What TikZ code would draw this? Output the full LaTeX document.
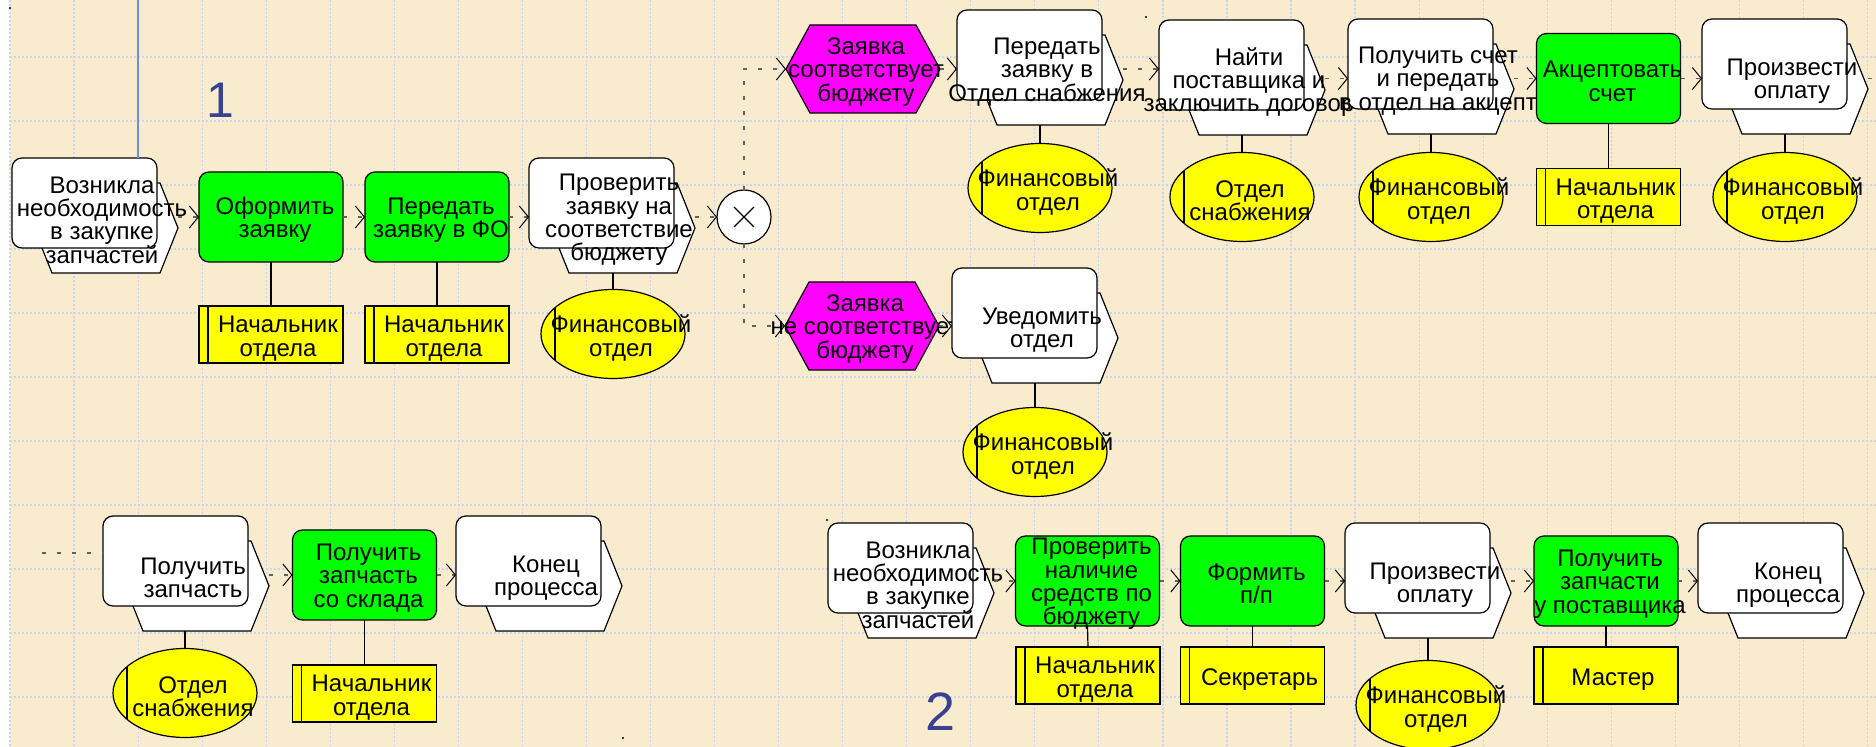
\documentclass[tikz,border=0pt]{standalone}
\usepackage{fontspec}
\setmainfont{Liberation Sans}
\usetikzlibrary{shapes.geometric,arrows.meta,calc}

\definecolor{paper}{HTML}{F9EBCD}
\definecolor{gridc}{HTML}{C7D4F4}
\definecolor{fgreen}{HTML}{00FF00}
\definecolor{fyellow}{HTML}{FFFF00}
\definecolor{fmag}{HTML}{FF00FF}
\definecolor{numc}{HTML}{3B4192}
\definecolor{lanec}{HTML}{6F8BE3}
\definecolor{connc}{HTML}{606060}

% event: rounded box over a hexagon; name, top-left corner, text
\newcommand{\EvShape}[3]{%
  \coordinate (#1-o) at (#2);
  \node[hexframe, anchor=north west] (#1-h) at ($(#1-o)+(22,25)$) {};
  \draw[shapeline, fill=white] ($(#1-h.north west)+(18,0)$) -- ($(#1-h.north east)+(-18,0)$)
     -- (#1-h.east) -- ($(#1-h.south east)+(-18,0)$) -- ($(#1-h.south west)+(18,0)$)
     -- (#1-h.west) -- cycle;
  \node[evbox] (#1) at (#1-o) {};
  \node[lbl] (#1-t) at ($(#1-o)+(90,62)$) {#3};}

% function: green rounded box; name, centre, text
\newcommand{\FnBox}[3]{%
  \node[fnbox] (#1) at (#2) {};
  \node[lbl] (#1-t) at ($(#1)+(4,3)$) {#3};}

% role: yellow box with a side bar
\newcommand{\RoleBox}[3]{%
  \node[rolebox] (#1) at (#2) {};
  \draw[shapeline] ($(#1.north west)+(9,0)$) -- ($(#1.south west)+(9,0)$);
  \node[lbl] (#1-t) at ($(#1)+(7,4)$) {#3};}

% organisational unit: yellow ellipse with a side bar
\newcommand{\OrgUnit}[3]{%
  \node[orgell] (#1) at (#2) {};
  \draw[shapeline] ($(#1.center)+(-58,-26)$) -- ($(#1.center)+(-58,26)$);
  \node[lbl] (#1-t) at ($(#1)+(8,4)$) {#3};}

% state: magenta hexagon
\newcommand{\StateHex}[3]{%
  \node[stateframe] (#1) at (#2) {};
  \draw[shapeline, fill=fmag] (#1.west) -- ($(#1.north west)+(24,0)$) -- ($(#1.north east)+(-24,0)$)
     -- (#1.east) -- ($(#1.south east)+(-24,0)$) -- ($(#1.south west)+(24,0)$) -- cycle;
  \node[lbl] (#1-t) at ($(#1)+(3,3)$) {#3};}

\begin{document}
\begin{tikzpicture}[x=0.5pt,y=-0.5pt,
  lbl/.style={font=\fontsize{12}{11.7}\selectfont, align=center, inner sep=0pt},
  shapeline/.style={draw=black, line width=0.6pt},
  hexframe/.style={inner sep=0pt, outer sep=0pt, minimum width=72pt, minimum height=45pt},
  stateframe/.style={inner sep=0pt, outer sep=0pt, minimum width=77pt, minimum height=44pt},
  evbox/.style={shapeline, fill=white, rounded corners=5pt, minimum width=72.5pt,
                minimum height=45pt, inner sep=0pt, outer sep=0pt, anchor=north west},
  fnbox/.style={shapeline, fill=fgreen, rounded corners=5pt, minimum width=72pt,
                minimum height=45pt, inner sep=0pt, outer sep=0pt},
  rolebox/.style={shapeline, fill=fyellow, minimum width=72pt, minimum height=28.5pt,
                inner sep=0pt, outer sep=0pt},
  orgell/.style={ellipse, shapeline, fill=fyellow, minimum width=72pt, minimum height=44.5pt,
                inner sep=0pt, outer sep=0pt},
  xorgate/.style={circle, shapeline, fill=white, minimum size=27pt, inner sep=0pt, outer sep=0pt},
  edge/.style={draw=black, line width=0.6pt},
  flowline/.style={draw=connc, line width=0.6pt, dash pattern=on 2pt off 5.5pt},
  flow/.style={flowline, -{Straight Barb[length=4.5pt,width=11pt,color=black,line width=0.5pt]}},
  gridline/.style={draw=gridc, line width=0.6pt, dash pattern=on 1pt off 1pt},
  bignum/.style={inner sep=0pt, text=numc}
]
\useasboundingbox (0,0) rectangle (1876,747);
\fill[paper] (0,0) rectangle (1876,747);
\fill[white] (0,0) rectangle (10,747);
\foreach \i in {0,...,29} \draw[gridline] ({10+64.05*\i},0) -- ({10+64.05*\i},747);
\foreach \j in {0,...,10} \draw[gridline] (10,{57+64*\j}) -- (1876,{57+64*\j});

% stray marks
\fill (10,8) circle (1.2);
\fill (1146,17) circle (1.2);
\fill (827,520) circle (1.2);
\fill (623,738) circle (1.2);

% scenario numbers
\node[bignum, font=\fontsize{25}{25}\selectfont] (n1) at (220,100) {1};
\node[bignum, font=\fontsize{27}{27}\selectfont] (n2) at (941,712) {2};

% ---- scenario 1, main row
\EvShape{e1}{12,158}{Возникла\\необходимость\\в закупке\\запчастей}
\coordinate (lanetop) at (138,0);
\draw[lanec, line width=1pt] (lanetop) -- (lanetop |- e1.north);
\FnBox{f1}{271,217}{Оформить\\заявку}
\FnBox{f2}{437,217}{Передать\\заявку в ФО}
\EvShape{e2}{529,158}{Проверить\\заявку на\\соответствие\\бюджету}
\RoleBox{r1}{271,334.5}{Начальник\\отдела}
\RoleBox{r2}{437,334.5}{Начальник\\отдела}
\OrgUnit{o1}{613,334}{Финансовый\\отдел}
\node[xorgate] (x1) at (744,217) {};
\draw[edge] ($(x1)+(-10,-10)$) -- ($(x1)+(10,10)$);
\draw[edge] ($(x1)+(-10,10)$) -- ($(x1)+(10,-10)$);

% ---- upper branch
\StateHex{h1}{863,69}{Заявка\\соответствует\\бюджету}
\EvShape{e3}{957,10}{Передать\\заявку в\\Отдел снабжения}
\OrgUnit{o2}{1040,188}{Финансовый\\отдел}
\EvShape{e4}{1159,20}{Найти\\поставщика и\\заключить договор}
\OrgUnit{o3}{1242,197}{Отдел\\снабжения}
\EvShape{e5}{1348,19}{Получить счет\\и передать\\в отдел на акцепт}
\OrgUnit{o4}{1431,197}{Финансовый\\отдел}
\FnBox{f3}{1608.5,78.5}{Акцептовать\\счет}
\RoleBox{r3}{1608.5,197}{Начальник\\отдела}
\EvShape{e6}{1702,19}{Произвести\\оплату}
\OrgUnit{o5}{1785,197}{Финансовый\\отдел}

% ---- lower branch
\StateHex{h2}{862,326}{Заявка\\не соответствует\\бюджету}
\EvShape{e7}{952,268}{Уведомить\\отдел}
\OrgUnit{o6}{1035,452}{Финансовый\\отдел}

% ---- continuation row
\coordinate (in8) at (42,553);
\EvShape{e8}{103,516}{Получить\\запчасть}
\OrgUnit{o7}{185,693}{Отдел\\снабжения}
\FnBox{f4}{364.5,575}{Получить\\запчасть\\со склада}
\RoleBox{r4}{364.5,693.5}{Начальник\\отдела}
\EvShape{e9}{456,516}{Конец\\процесса}

% ---- scenario 2
\EvShape{e10}{828,523}{Возникла\\необходимость\\в закупке\\запчастей}
\FnBox{f5}{1087.5,581}{Проверить\\наличие\\средств по\\бюджету}
\RoleBox{r5}{1088,675.5}{Начальник\\отдела}
\FnBox{f6}{1252.5,581}{Формить\\п/п}
\RoleBox{r6}{1252.5,675.5}{Секретарь}
\EvShape{e11}{1345,523}{Произвести\\оплату}
\OrgUnit{o8}{1428,705}{Финансовый\\отдел}
\FnBox{f7}{1606,581}{Получить\\запчасти\\у поставщика}
\RoleBox{r7}{1606,675.5}{Мастер}
\EvShape{e12}{1698,523}{Конец\\процесса}

% ---- assignments
\draw[edge] (f1.south) -- (r1.north);
\draw[edge] (f2.south) -- (r2.north);
\draw[edge] (o1.north |- e2-h.south) -- (o1.north);
\draw[edge] (o2.north |- e3-h.south) -- (o2.north);
\draw[edge] (o3.north |- e4-h.south) -- (o3.north);
\draw[edge] (o4.north |- e5-h.south) -- (o4.north);
\draw[edge] (f3.south) -- (r3.north);
\draw[edge] (o5.north |- e6-h.south) -- (o5.north);
\draw[edge] (o6.north |- e7-h.south) -- (o6.north);
\draw[edge] (o7.north |- e8-h.south) -- (o7.north);
\draw[edge] (f4.south) -- (r4.north);
\draw[edge] (f5.south) -- (r5.north);
\draw[edge] (f6.south) -- (r6.north);
\draw[edge] (o8.north |- e11-h.south) -- (o8.north);
\draw[edge] (f7.south) -- (r7.north);

% ---- control flow
\draw[flow] (e1-h.east |- f1.west) -- (f1.west);
\draw[flow] (f1.east) -- (f2.west);
\draw[flow] (f2.east) -- (e2.west |- f2.east);
\draw[flow] (e2-h.east |- x1.west) -- (x1.west);
\draw[flow] (x1.north) -- (x1.north |- h1.west) -- (h1.west);
\draw[flow] (x1.south) -- (x1.south |- h2.west) -- (h2.west);
\draw[flow] (h1.east) -- (e3.west |- h1.east);
\draw[flow] (e3-h.east |- h1.east) -- (e4.west |- h1.east);
\draw[flow] (e4-h.east |- f3.west) -- (e5.west |- f3.west);
\draw[flow] (e5-h.east |- f3.west) -- (f3.west);
\draw[flow] (f3.east) -- (e6.west |- f3.east);
\draw[flowline] (e6-h.east |- f3.east) -- ++(6,0);
\draw[flow] (h2.east) -- (e7.west |- h2.east);
\draw[flowline] (in8) -- (in8 -| e8.west);
\draw[flow] (e8-h.east |- f4.west) -- (f4.west);
\draw[flow] (f4.east) -- (e9.west |- f4.east);
\draw[flow] (e10-h.east |- f5.west) -- (f5.west);
\draw[flow] (f5.east) -- (f6.west);
\draw[flow] (f6.east) -- (e11.west |- f6.east);
\draw[flow] (e11-h.east |- f7.west) -- (f7.west);
\draw[flow] (f7.east) -- (e12.west |- f7.east);
\end{tikzpicture}
\end{document}
